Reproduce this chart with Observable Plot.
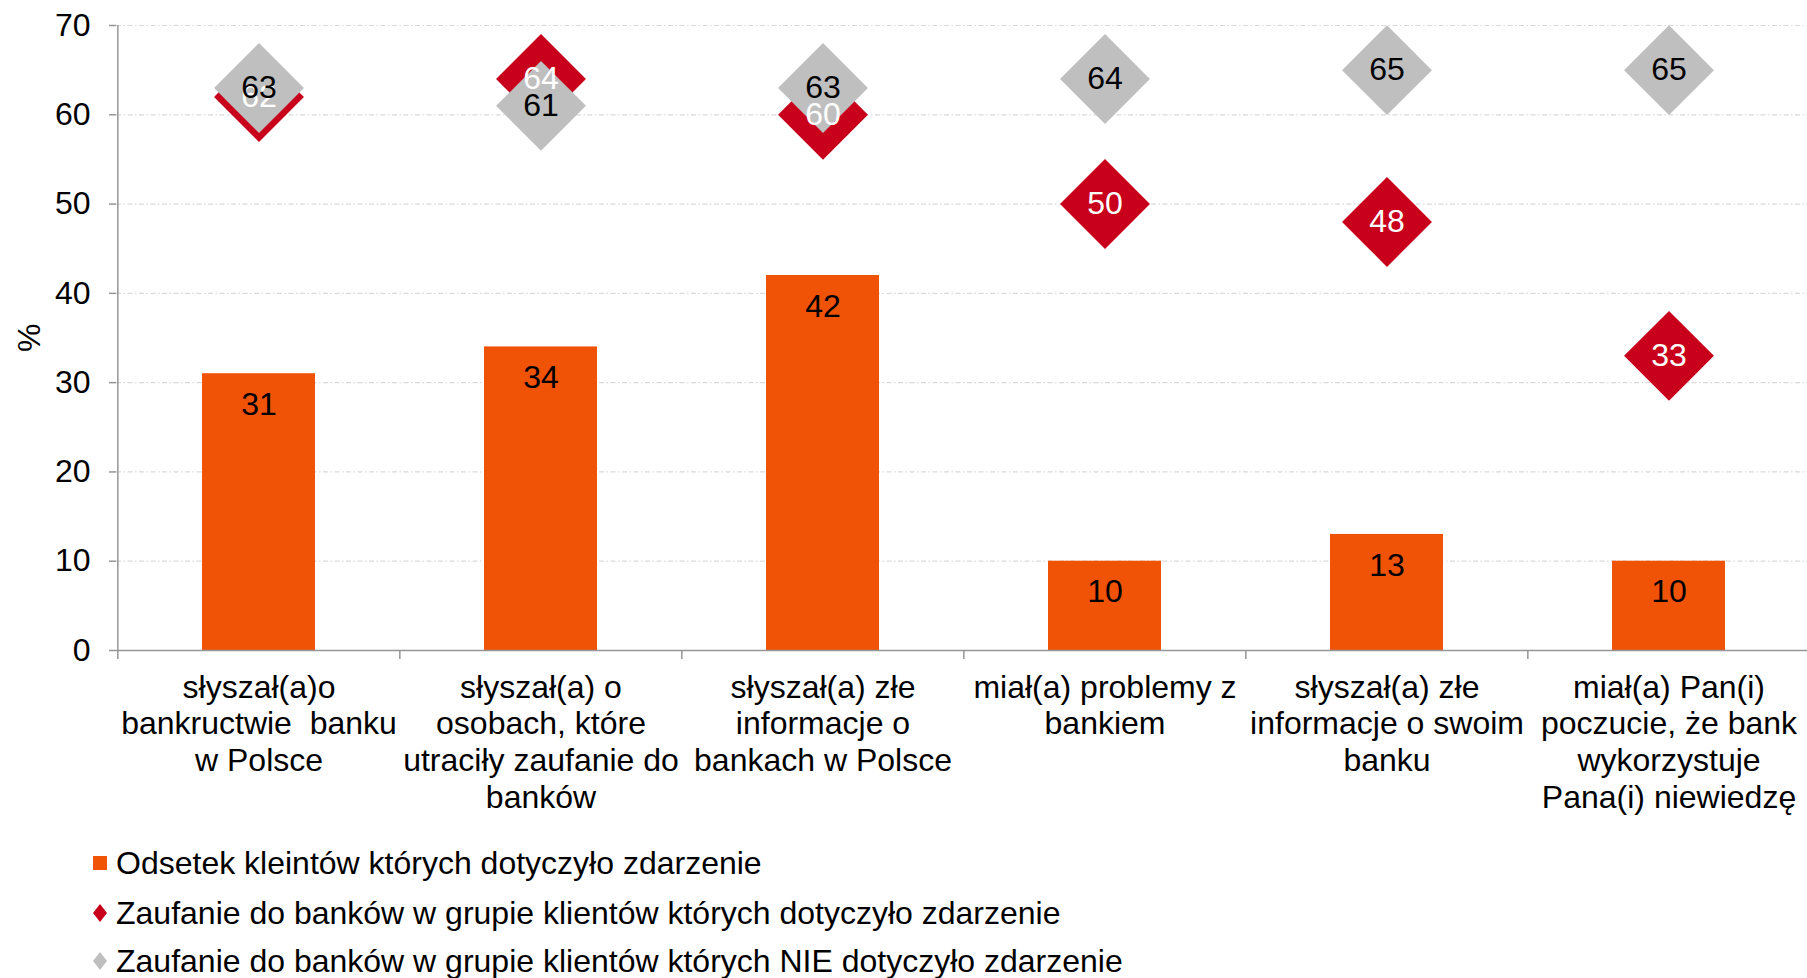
<!DOCTYPE html>
<html>
<head>
<meta charset="utf-8">
<script src="https://cdn.jsdelivr.net/npm/d3@7"></script>
<script src="https://cdn.jsdelivr.net/npm/@observablehq/plot@0.6"></script>
<style>
  html, body { margin: 0; padding: 0; background: #fff; }
  body { width: 1807px; height: 978px; position: relative; overflow: hidden;
         font-family: "Liberation Sans", Arial, sans-serif; }
  #chart { position: absolute; left: 0; top: 0; }
  .legend-row { position: absolute; left: 92px; height: 40px; display: flex; align-items: center;
                font-size: 32px; color: #000; white-space: nowrap; }
  .legend-row svg { margin-right: 8px; }
</style>
</head>
<body>
<div id="chart"></div>
<div id="legend"></div>
<script>
const categories = [
  "słyszał(a)o\nbankructwie  banku\nw Polsce",
  "słyszał(a) o\nosobach, które\nutraciły zaufanie do\nbanków",
  "słyszał(a) złe\ninformacje o\nbankach w Polsce",
  "miał(a) problemy z\nbankiem",
  "słyszał(a) złe\ninformacje o swoim\nbanku",
  "miał(a) Pan(i)\npoczucie, że bank\nwykorzystuje\nPana(i) niewiedzę"
];
const shareAffected = [31, 34, 42, 10, 13, 10];
const trustAffected = [62, 64, 60, 50, 48, 33];
const trustNotAffected = [63, 61, 63, 64, 65, 65];
const yTicks = [0, 10, 20, 30, 40, 50, 60, 70];
const seriesNames = [
  "Odsetek kleintów których dotyczyło zdarzenie",
  "Zaufanie do banków w grupie klientów których dotyczyło zdarzenie",
  "Zaufanie do banków w grupie klientów których NIE dotyczyło zdarzenie"
];
const colors = ["#F05206", "#C8001B", "#BFBFBF"];

const W = 1807, H = 830, mL = 116, mR = -3, mT = 25, mB = 180;
const step = (W - mL - mR) / categories.length;
const axisColor = "#969696";

const bars = categories.map((c, i) => ({c, v: shareAffected[i]}));
const red = categories.map((c, i) => ({c, v: trustAffected[i]}));
const gray = categories.map((c, i) => ({c, v: trustNotAffected[i]}));

const chart = Plot.plot({
  width: W, height: H,
  marginLeft: mL, marginRight: mR, marginTop: mT, marginBottom: mB,
  style: {fontFamily: "'Liberation Sans', Arial, sans-serif", fontSize: "32px", color: "#000", background: "#fff"},
  x: {domain: categories, paddingInner: 0.6, paddingOuter: 0.3, label: null},
  y: {domain: [0, 70], label: null},
  marks: [
    Plot.ruleY(yTicks.filter(t => t > 0), {stroke: "#D9D9D9", strokeWidth: 1.2, strokeDasharray: "5,2.5,1.5,2.5"}),
    Plot.barY(bars, {x: "c", y: "v", fill: colors[0]}),
    Plot.ruleY([0], {stroke: axisColor, strokeWidth: 1.5}),
    Plot.ruleX(categories, {x: d => d, y1: -1, y2: 0, dx: -step / 2, stroke: axisColor, strokeWidth: 1.5}),
    Plot.ruleX([categories[0]], {x: d => d, y1: 0, y2: 70, dx: -step / 2, stroke: axisColor, strokeWidth: 1.5}),
    Plot.axisY({ticks: yTicks, tickSize: 7, tickPadding: 19, stroke: axisColor, strokeWidth: 1.5, fontSize: 32, label: null}),
    Plot.axisX({tickSize: 0, tickPadding: 21, lineHeight: 1.15, fontSize: 32, label: null}),
    Plot.text(["%"], {text: d => d, frameAnchor: "left", dx: -87, dy: 14, rotate: -90, fontSize: 32, fill: "#000"}),
    Plot.text(bars, {x: "c", y: "v", text: d => String(d.v), dy: 31, fill: "#000", fontSize: 32}),
    Plot.dot(red, {x: "c", y: "v", symbol: "diamond2", r: 40.5, fill: colors[1], stroke: "none"}),
    Plot.dot(gray, {x: "c", y: "v", symbol: "diamond2", r: 40.5, fill: colors[2], stroke: "none"}),
    Plot.text(red, {x: "c", y: "v", text: d => String(d.v), fill: "#fff", fontSize: 32}),
    Plot.text(gray, {x: "c", y: "v", text: d => String(d.v), fill: "#000", fontSize: 32})
  ]
});
document.getElementById("chart").appendChild(chart);

// Legend
const legendCenters = [863, 913, 961];
const legend = document.getElementById("legend");
seriesNames.forEach((name, i) => {
  const row = document.createElement("div");
  row.className = "legend-row";
  row.style.top = (legendCenters[i] - 20) + "px";
  let marker;
  if (i === 0) {
    marker = `<svg width="16" height="16"><rect x="1" y="1" width="14" height="14" fill="${colors[i]}"/></svg>`;
  } else {
    marker = `<svg width="16" height="20"><path d="M8 1 L15 10 L8 19 L1 10 Z" fill="${colors[i]}"/></svg>`;
  }
  row.innerHTML = marker + `<span>${name}</span>`;
  legend.appendChild(row);
});
</script>
</body>
</html>
